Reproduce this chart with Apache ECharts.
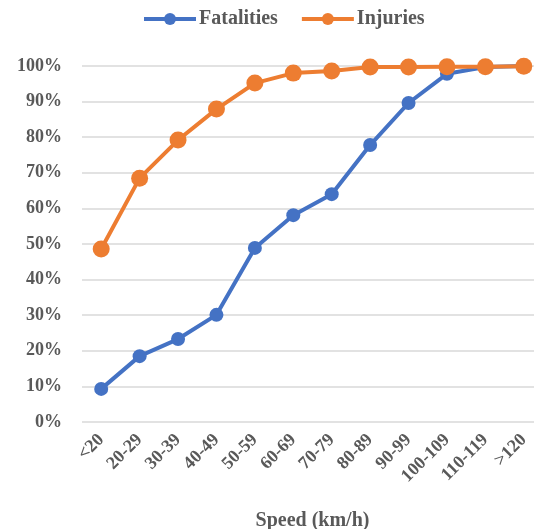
<!DOCTYPE html>
<html><head><meta charset="utf-8">
<script src="https://cdn.jsdelivr.net/npm/echarts@6/dist/echarts.min.js"></script>
<style>html,body{margin:0;padding:0;background:#fff}#c{width:534px;height:529px}</style>
</head><body><div id="c"></div>
<script>
const categories = ['<20','20-29','30-39','40-49','50-59','60-69','70-79','80-89','90-99','100-109','110-119','>120'];
const fatalities = [9.3, 18.5, 23.3, 30.1, 48.9, 58.1, 64.0, 77.8, 89.6, 97.8, 99.7, 100];
const injuries = [48.6, 68.5, 79.2, 87.9, 95.2, 98.0, 98.6, 99.7, 99.7, 99.8, 99.8, 99.9];
const yTicks = [0,10,20,30,40,50,60,70,80,90,100];
const font = '"Liberation Serif", "Times New Roman", serif';
const chart = echarts.init(document.getElementById('c'));
chart.setOption({
  animation: false,
  textStyle: {fontFamily: font},
  legend: {
    top: 4, left: 137, itemWidth: 52, itemHeight: 15, itemGap: 22,
    lineStyle: {width: 4},
    textStyle: {fontFamily: font, fontWeight: 'bold', fontSize: 20, color: '#595959', padding: [0, 0, 0, -2]},
    data: ['Fatalities','Injuries']
  },
  grid: {left: 82, right: -9, top: 66, bottom: 107, containLabel: false, outerBoundsMode: 'none'},
  xAxis: {
    type: 'category', data: categories, boundaryGap: true,
    axisLine: {show: false}, axisTick: {show: false},
    axisLabel: {rotate: 45, fontFamily: font, fontWeight: 'bold', fontSize: 18, color: '#595959', margin: 15, interval: 0},
    name: 'Speed (km/h)', nameLocation: 'middle', nameGap: 89,
    nameTextStyle: {fontFamily: font, fontWeight: 'bold', fontSize: 20, color: '#595959'}
  },
  yAxis: {
    type: 'value', min: 0, max: 100, interval: 10,
    axisLine: {show: false}, axisTick: {show: false},
    splitLine: {lineStyle: {color: '#d9d9d9', width: 1.5}},
    axisLabel: {formatter: v => v + '%', fontFamily: font, fontWeight: 'bold', fontSize: 18, color: '#595959', margin: 20}
  },
  series: [
    {name: 'Fatalities', type: 'line', data: fatalities, symbol: 'circle', symbolSize: 14,
     color: '#4472C4', lineStyle: {width: 4}, z: 2},
    {name: 'Injuries', type: 'line', data: injuries, symbol: 'circle', symbolSize: 17,
     color: '#ED7D31', lineStyle: {width: 4}, z: 3}
  ]
});
</script></body></html>
